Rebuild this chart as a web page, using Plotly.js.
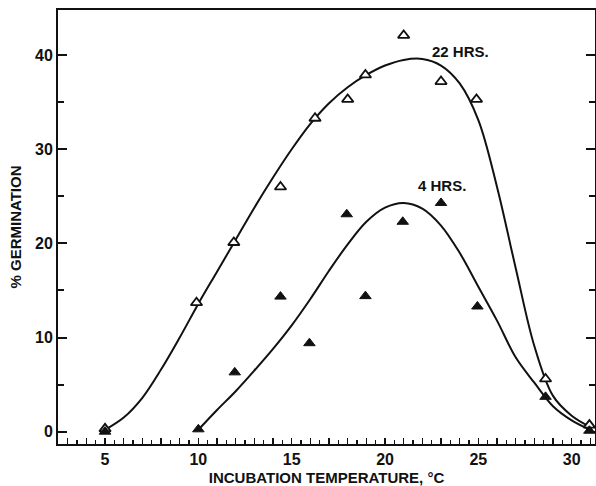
<!DOCTYPE html>
<html>
<head>
<meta charset="utf-8">
<script src="https://cdn.plot.ly/plotly-3.0.1.min.js"></script>
<style>html,body{margin:0;padding:0;background:#fff;}#chart{width:596px;height:486px;}</style>
</head>
<body>
<div id="chart"></div>
<script>
// Observed points
const temp22 = [5, 9.9, 11.9, 14.4, 16.25, 18.0, 18.95, 21.0, 23.0, 24.9, 28.6, 30.95];
const germ22 = [0.3, 13.7, 20.1, 26.0, 33.3, 35.3, 37.9, 42.1, 37.2, 35.3, 5.6, 0.7];
const temp4 = [5, 10.0, 11.95, 14.4, 15.95, 17.95, 18.95, 20.95, 23.0, 24.95, 28.6, 30.95];
const germ4 = [0.0, 0.25, 6.3, 14.35, 9.4, 23.1, 14.4, 22.3, 24.3, 13.3, 3.7, 0.1];
// Fitted curves (at each degree)
const curve22x = [5, 6, 7, 8, 9, 10, 11, 12, 13, 14, 15, 16, 17, 18, 19, 20, 21, 22, 23, 24, 25, 26, 27, 28, 29, 30, 31];
const curve22y = [0.2, 1.5, 3.6, 6.6, 10.0, 13.6, 17.0, 20.4, 23.8, 27.0, 30.0, 32.7, 34.9, 36.6, 37.9, 38.9, 39.5, 39.6, 38.9, 37.0, 33.1, 26.0, 17.4, 9.1, 3.8, 1.7, 0.5];
const curve4x = [10, 11, 12, 13, 14, 15, 16, 17, 18, 19, 20, 21, 22, 23, 24, 25, 26, 27, 28, 29, 30, 31];
const curve4y = [0.2, 2.3, 4.3, 6.5, 8.8, 11.3, 14.1, 17.1, 19.9, 22.3, 23.8, 24.3, 23.7, 21.9, 19.0, 15.4, 11.8, 7.9, 5.2, 2.7, 1.2, 0.2];
// Tick labels
const xTickVals = [3,4,5,6,7,8,9,10,11,12,13,14,15,16,17,18,19,20,21,22,23,24,25,26,27,28,29,30,31];
const xTickText = xTickVals.map(v => (v % 5 === 0 ? String(v) : ''));
const yTickVals = [0, 10, 20, 30, 40];
const yTickText = ['0', '10', '20', '30', '40'];

const FONT = 'Liberation Sans, Arial, sans-serif';

const traces = [
  {x: curve22x, y: curve22y, mode: 'lines', line: {color: '#111', width: 2, shape: 'spline', smoothing: 1}, hoverinfo: 'skip', showlegend: false},
  {x: curve4x, y: curve4y, mode: 'lines', line: {color: '#111', width: 2, shape: 'spline', smoothing: 1}, hoverinfo: 'skip', showlegend: false},
  {x: temp22, y: germ22, mode: 'markers', marker: {symbol: 'triangle-up', size: 10, color: '#fff', line: {color: '#111', width: 1.8}}, showlegend: false, cliponaxis: false},
  {x: temp4, y: germ4, mode: 'markers', marker: {symbol: 'triangle-up', size: 10, color: '#111', line: {color: '#111', width: 1}}, showlegend: false, cliponaxis: false}
];

const layout = {
  width: 596, height: 486,
  margin: {l: 58, r: 1, t: 10, b: 42},
  paper_bgcolor: '#fff', plot_bgcolor: '#fff',
  font: {family: FONT, color: '#111'},
  showlegend: false,
  xaxis: {
    range: [2.48, 31.25], showgrid: false, zeroline: false,
    showline: true, linecolor: '#111', linewidth: 2, mirror: true,
    tickmode: 'array', tickvals: xTickVals, ticktext: xTickText,
    ticks: 'inside', ticklen: 6, tickwidth: 1.5, tickcolor: '#111',
    minor: {dtick: 0.5, tick0: 0, ticks: 'inside', ticklen: 4, tickwidth: 1.5, tickcolor: '#111'},
    tickfont: {family: FONT, size: 16, color: '#111', weight: 'bold'},
    title: {text: 'INCUBATION TEMPERATURE, °C', font: {family: FONT, size: 15, color: '#111', weight: 'bold'}, standoff: 7}
  },
  yaxis: {
    range: [-1.31, 44.8], showgrid: false, zeroline: false,
    showline: true, linecolor: '#111', linewidth: 2, mirror: 'ticks',
    tickmode: 'array', tickvals: yTickVals, ticktext: yTickText,
    ticks: 'inside', ticklen: 9, tickwidth: 2, tickcolor: '#111',
    minor: {dtick: 5, tick0: 0, ticks: 'inside', ticklen: 6, tickwidth: 2, tickcolor: '#111'},
    tickfont: {family: FONT, size: 16, color: '#111', weight: 'bold'},
    title: {text: '% GERMINATION', font: {family: FONT, size: 15, color: '#111', weight: 'bold'}, standoff: 10}
  },
  annotations: [
    {x: 24.07, y: 40.4, xref: 'x', yref: 'y', text: '22 HRS.', showarrow: false, font: {family: FONT, size: 15, color: '#111', weight: 'bold'}},
    {x: 23.03, y: 26.2, xref: 'x', yref: 'y', text: '4 HRS.', showarrow: false, font: {family: FONT, size: 15, color: '#111', weight: 'bold'}}
  ]
};

Plotly.newPlot('chart', traces, layout, {displayModeBar: false, staticPlot: true});
</script>
</body>
</html>
